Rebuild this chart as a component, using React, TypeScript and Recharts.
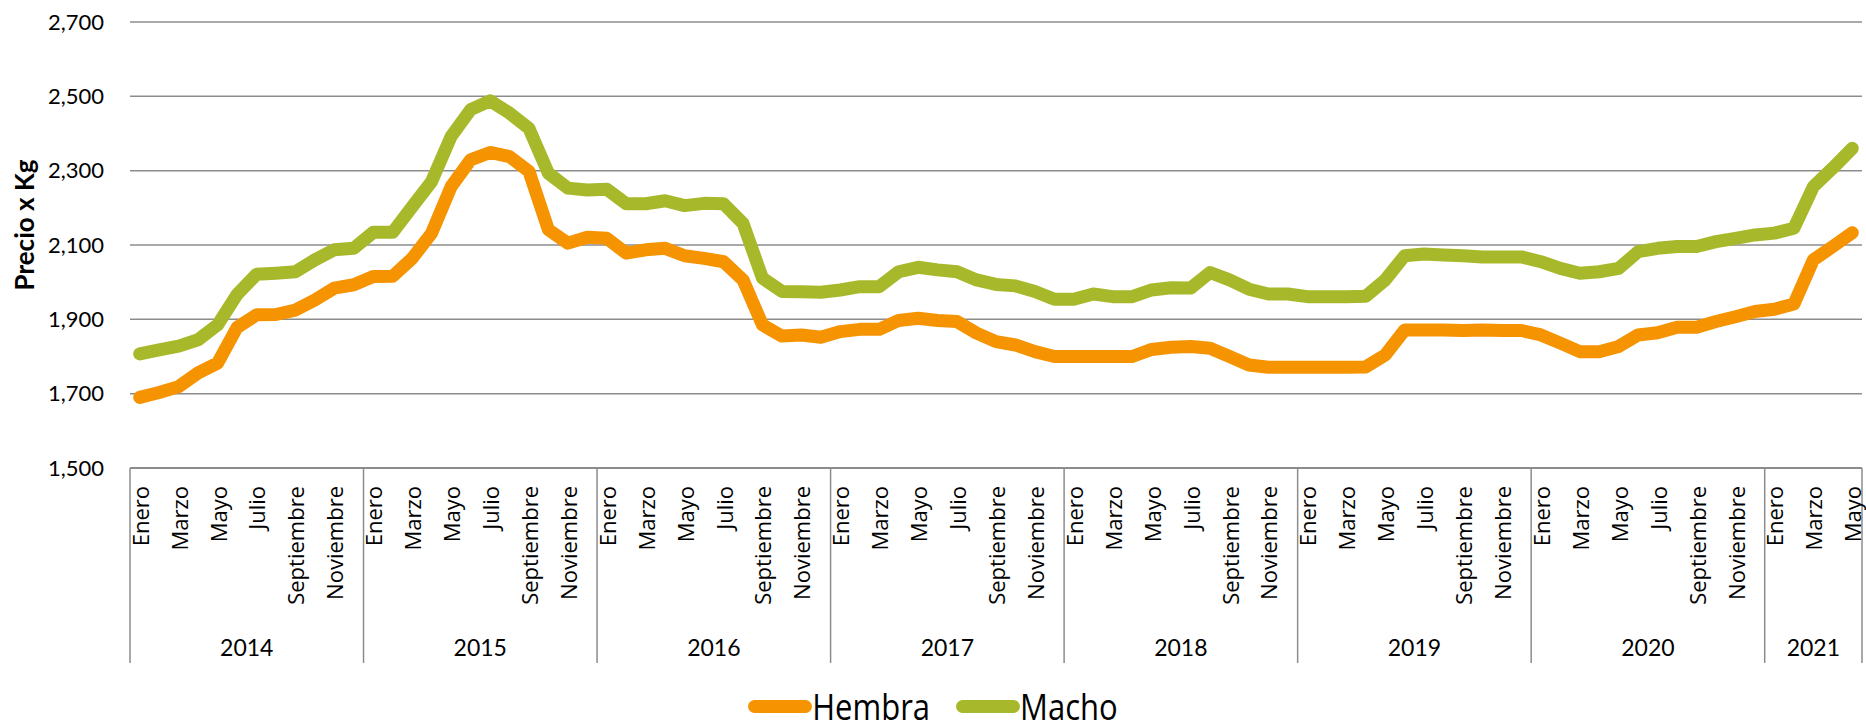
import React from 'react';
import { LineChart, Line, XAxis, YAxis, CartesianGrid, Legend, Label } from 'recharts';

const monthNames = ['Enero', 'Febrero', 'Marzo', 'Abril', 'Mayo', 'Junio', 'Julio', 'Agosto', 'Septiembre', 'Octubre', 'Noviembre', 'Diciembre'];
const years = [2014, 2015, 2016, 2017, 2018, 2019, 2020, 2021];
const monthsPerYear = [12, 12, 12, 12, 12, 12, 12, 5];

const hembra = [
  1690, 1703, 1719, 1756, 1782, 1878, 1912, 1913, 1925, 1952, 1984, 1993,
  2015, 2016, 2064, 2132, 2257, 2329, 2349, 2338, 2298, 2141, 2105, 2121,
  2118, 2078, 2087, 2091, 2071, 2064, 2055, 2006, 1885, 1855, 1858, 1852,
  1867, 1873, 1873, 1897, 1903, 1897, 1894, 1863, 1840, 1831, 1813, 1800,
  1800, 1800, 1800, 1800, 1819, 1825, 1827, 1822, 1800, 1777, 1771, 1771,
  1771, 1771, 1771, 1772, 1804, 1871, 1871, 1871, 1870, 1871, 1870, 1870,
  1858, 1836, 1813, 1813, 1827, 1858, 1864, 1879, 1879, 1894, 1907, 1921,
  1927, 1941, 2060, 2096, 2133,
];

const macho = [
  1807, 1818, 1828, 1845, 1885, 1967, 2021, 2024, 2028, 2060, 2087, 2091,
  2134, 2134, 2203, 2271, 2392, 2464, 2488, 2455, 2414, 2293, 2253, 2248,
  2250, 2211, 2211, 2219, 2206, 2212, 2211, 2158, 2011, 1975, 1974, 1973,
  1979, 1988, 1988, 2028, 2040, 2033, 2028, 2006, 1994, 1990, 1975, 1954,
  1954, 1968, 1961, 1961, 1979, 1985, 1984, 2026, 2006, 1981, 1968, 1968,
  1961, 1961, 1961, 1962, 2006, 2071, 2076, 2073, 2071, 2068, 2068, 2068,
  2055, 2037, 2024, 2028, 2037, 2082, 2091, 2096, 2096, 2109, 2118, 2127,
  2132, 2145, 2257, 2307, 2360,
];

const yTicks = [1500, 1700, 1900, 2100, 2300, 2500, 2700];

const total = hembra.length;
const data = hembra.map((h, i) => ({
  pos: i + 0.5,
  month: monthNames[i % 12],
  hembra: h,
  macho: macho[i],
}));

const monthTicks = data.filter((_, i) => i % 2 === 0).map((d) => d.pos);
const boundaries: number[] = [];
{
  let acc = 0;
  monthsPerYear.forEach((n) => {
    boundaries.push(acc);
    acc += n;
  });
  boundaries.push(acc);
}
const yearCenters = monthsPerYear.map((n, k) => boundaries[k] + n / 2);

const ORANGE = '#F59300';
const GREEN = '#A7B92A';
const GRID = '#8c8c8c';

const EmptyTick = () => <g />;

const MonthTick = (props: any) => {
  const { x, y, payload } = props;
  const name = monthNames[Math.floor(payload.value) % 12];
  return (
    <text
      x={x}
      y={y}
      transform={`rotate(-90, ${x}, ${y})`}
      textAnchor="end"
      dominantBaseline="central"
      fontFamily="'Open Sans', sans-serif"
      fontSize={22}
      fill="#000"
    >
      {name}
    </text>
  );
};

const YearTick = (props: any) => {
  const { x, y, index } = props;
  return (
    <text
      x={x}
      y={y}
      textAnchor="middle"
      dominantBaseline="central"
      fontFamily="Lato, sans-serif"
      fontSize={23}
      fill="#000"
    >
      {years[index]}
    </text>
  );
};

const renderYLabel = (props: any) => {
  const vb = props.viewBox || { x: 0, y: 0, width: 0, height: 0 };
  const cx = vb.x + 24;
  const cy = vb.y + vb.height / 2 - 20;
  return (
    <text
      x={cx}
      y={cy}
      transform={`rotate(-90, ${cx}, ${cy})`}
      textAnchor="middle"
      dominantBaseline="central"
      fontFamily="Lato, sans-serif"
      fontWeight="bold"
      fontSize={26}
      fill="#000"
    >
      Precio x Kg
    </text>
  );
};

const renderLegend = (props: any) => {
  const payload = props.payload || [];
  return (
    <div style={{ display: 'flex', justifyContent: 'center', alignItems: 'center', height: 32 }}>
      {payload.map((entry: any, i: number) => (
        <div key={i} style={{ display: 'flex', alignItems: 'center', marginLeft: i === 0 ? 0 : 26 }}>
          <div style={{ width: 64, height: 13, borderRadius: 7, background: entry.color }} />
          <span
            style={{
              display: 'inline-block',
              fontFamily: "'Open Sans', sans-serif",
              fontSize: 31,
              lineHeight: '32px',
              color: '#000',
              transform: 'scaleY(1.2)',
              transformOrigin: 'center center',
            }}
          >
            {entry.value}
          </span>
        </div>
      ))}
    </div>
  );
};

export default function App() {
  return (
    <div
      style={{
        position: 'absolute',
        left: 0,
        top: 0,
        width: 1866,
        height: 723,
        background: '#fff',
        overflow: 'hidden',
        fontFamily: "'Open Sans', sans-serif",
      }}
    >
      <LineChart width={1866} height={723} data={data} margin={{ top: 22, right: 4, left: 0, bottom: 44 }}>
        <CartesianGrid xAxisId="b_month" vertical={false} stroke={GRID} strokeWidth={1.5} />
        <XAxis
          xAxisId="a_sep"
          type="number"
          dataKey="pos"
          domain={[0, total]}
          ticks={boundaries}
          interval={0}
          height={1}
          tick={EmptyTick}
          tickSize={195}
          tickMargin={0}
          tickLine={{ stroke: GRID, strokeWidth: 1.5 }}
          axisLine={{ stroke: GRID, strokeWidth: 2 }}
        />
        <XAxis
          xAxisId="b_month"
          type="number"
          dataKey="pos"
          domain={[0, total]}
          ticks={monthTicks}
          interval={0}
          height={150}
          tickLine={false}
          axisLine={false}
          tickSize={0}
          tickMargin={17}
          tick={<MonthTick />}
        />
        <XAxis
          xAxisId="c_year"
          type="number"
          dataKey="pos"
          domain={[0, total]}
          ticks={yearCenters}
          interval={0}
          height={60}
          tickLine={false}
          axisLine={false}
          tickSize={0}
          tickMargin={28}
          tick={<YearTick />}
        />
        <YAxis
          domain={[1500, 2700]}
          ticks={yTicks}
          interval={0}
          width={130}
          tickLine={false}
          axisLine={false}
          tickSize={0}
          tickMargin={26}
          tick={{ fontFamily: 'Lato, sans-serif', fontSize: 22, fill: '#000' }}
          tickFormatter={(v: number) => v.toLocaleString('en-US')}
        >
          <Label content={renderYLabel} />
        </YAxis>
        <Line
          xAxisId="b_month"
          type="linear"
          dataKey="hembra"
          name="Hembra"
          stroke={ORANGE}
          strokeWidth={13}
          strokeLinejoin="round"
          strokeLinecap="round"
          dot={false}
          activeDot={false}
          isAnimationActive={false}
        />
        <Line
          xAxisId="b_month"
          type="linear"
          dataKey="macho"
          name="Macho"
          stroke={GREEN}
          strokeWidth={13}
          strokeLinejoin="round"
          strokeLinecap="round"
          dot={false}
          activeDot={false}
          isAnimationActive={false}
        />
        <Legend
          verticalAlign="middle"
          layout="horizontal"
          align="center"
          content={renderLegend}
          wrapperStyle={{ position: 'absolute', top: 690, left: 0, width: 1866, height: 32 }}
        />
      </LineChart>
    </div>
  );
}
